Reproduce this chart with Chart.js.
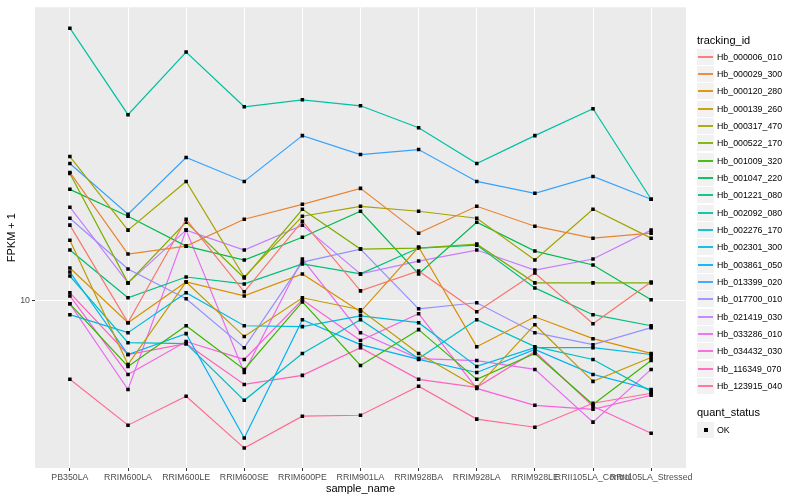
<!DOCTYPE html>
<html><head><meta charset="utf-8">
<script src="https://cdn.jsdelivr.net/npm/chart.js@4.4.1/dist/chart.umd.min.js"></script>
<style>
body{margin:0;background:#fff;font-family:"Liberation Sans",Arial,sans-serif;}
#wrap{position:relative;width:800px;height:500px;overflow:hidden;}
#c{position:absolute;left:0;top:0;}
.lt{position:absolute;font-size:11px;line-height:13px;color:#000;white-space:nowrap;}
.key{position:absolute;width:17px;height:16px;background:#F2F2F2;}
.key i{position:absolute;left:1px;width:15px;top:7px;height:2px;opacity:0.9;}
.key b{position:absolute;left:7px;top:6px;width:4px;height:4px;background:#000;}
.lab{position:absolute;font-size:8.8px;line-height:10px;color:#000;white-space:nowrap;}
</style></head><body>
<div id="wrap"><canvas id="c" width="800" height="500"></canvas><div id="legend"></div></div>
<script>
const categories = ["PB350LA","RRIM600LA","RRIM600LE","RRIM600SE","RRIM600PE","RRIM901LA","RRIM928BA","RRIM928LA","RRIM928LE","RRII105LA_Control","RRII105LA_Stressed"];
const trackingIds = ["Hb_000006_010","Hb_000029_300","Hb_000120_280","Hb_000139_260","Hb_000317_470","Hb_000522_170","Hb_001009_320","Hb_001047_220","Hb_001221_080","Hb_002092_080","Hb_002276_170","Hb_002301_300","Hb_003861_050","Hb_013399_020","Hb_017700_010","Hb_021419_030","Hb_033286_010","Hb_034432_030","Hb_116349_070","Hb_123915_040"];
const seriesColors = ["#F8766D","#EA8331","#D89000","#C09B00","#A3A500","#7CAE00","#39B600","#00BB4E","#00BF7D","#00C1A3","#00BFC4","#00BAE0","#00B0F6","#35A2FF","#9590FF","#C77CFF","#E76BF3","#FA62DB","#FF62BC","#FF6C91"];
const yTicks = [10];
const quantStatus = ["OK"];

const hb000006 = [16.74, 8.62, 17.42, 10.63, 17.19, 10.70, 12.25, 9.28, 12.09, 8.56, 11.37];
const hb000029 = [23.96, 13.75, 14.51, 17.42, 19.29, 21.50, 15.85, 19.03, 16.62, 15.32, 15.85];
const hb000120 = [12.50, 8.62, 11.37, 10.34, 12.01, 9.28, 14.42, 7.32, 8.97, 7.73, 6.99];
const hb000139 = [15.11, 6.48, 11.37, 7.84, 10.21, 9.41, 6.99, 5.55, 8.50, 5.78, 6.80];
const hb000317 = [26.70, 16.18, 22.54, 11.76, 17.78, 19.03, 18.40, 17.54, 13.20, 18.65, 15.32];
const hb000522 = [23.80, 11.30, 17.08, 11.68, 18.65, 14.22, 14.32, 14.71, 11.30, 11.30, 11.30];
const hb001009 = [9.80, 6.40, 8.44, 6.27, 9.93, 6.44, 8.22, 5.86, 6.99, 4.94, 6.66];
const hb001047 = [21.36, 17.78, 14.51, 13.20, 15.42, 18.40, 12.01, 17.08, 14.03, 12.76, 10.07];
const hb001221 = [14.13, 10.21, 11.76, 11.22, 12.85, 12.01, 14.32, 14.61, 10.92, 9.10, 8.44];
const hb002092 = [63.98, 35.50, 54.38, 37.47, 39.29, 37.72, 32.50, 25.46, 30.79, 36.96, 19.96];
const hb002276 = [11.84, 7.52, 7.47, 5.08, 6.99, 8.79, 6.75, 8.79, 7.32, 6.71, 5.40];
const hb002301 = [9.10, 8.05, 10.56, 8.44, 8.39, 9.03, 8.62, 6.40, 7.27, 7.27, 6.94];
const hb003861 = [12.17, 6.94, 8.00, 3.93, 8.79, 7.42, 6.71, 6.14, 7.18, 6.06, 5.47];
const hb013399 = [25.46, 18.03, 26.52, 22.54, 30.79, 27.06, 28.00, 22.54, 20.79, 23.32, 19.96];
const hb017700 = [17.54, 12.42, 10.14, 7.27, 13.02, 14.22, 9.47, 9.87, 8.05, 7.42, 8.33];
const hb021419 = [18.91, 11.30, 16.18, 14.13, 16.74, 12.01, 13.11, 14.13, 12.33, 13.29, 16.18];
const hb033286 = [9.80, 5.47, 16.18, 6.14, 13.29, 8.05, 6.75, 6.66, 6.27, 4.38, 6.27];
const hb034432 = [10.34, 6.06, 7.58, 6.71, 10.07, 7.63, 9.16, 5.51, 4.91, 4.78, 5.26];
const hb116349 = [10.56, 6.94, 7.47, 5.66, 6.02, 7.27, 5.86, 5.55, 7.08, 4.88, 4.06];
const hb123915 = [5.86, 4.29, 5.22, 3.67, 4.56, 4.59, 5.59, 4.47, 4.23, 4.98, 5.33];

const seriesValues = [hb000006,hb000029,hb000120,hb000139,hb000317,hb000522,hb001009,hb001047,hb001221,hb002092,hb002276,hb002301,hb003861,hb013399,hb017700,hb021419,hb033286,hb034432,hb116349,hb123915];

const FONT = '"Liberation Sans", Arial, sans-serif';

const datasets = trackingIds.map((id, k) => ({
  label: id,
  data: seriesValues[k].map((v, i) => ({x: i, y: v})),
  borderColor: seriesColors[k],
  backgroundColor: '#000',
  borderWidth: 1.2,
  pointStyle: 'rect',
  pointRadius: 2.5,
  pointBorderWidth: 0,
  pointBackgroundColor: '#000',
  tension: 0,
  fill: false
}));

const panelBg = {
  id: 'panelBg',
  beforeDraw(chart) {
    const {ctx, chartArea: a} = chart;
    ctx.save();
    ctx.fillStyle = '#EBEBEB';
    ctx.fillRect(a.left, a.top, a.right - a.left, a.bottom - a.top);
    ctx.restore();
  }
};

new Chart(document.getElementById('c'), {
  type: 'line',
  data: {datasets},
  plugins: [panelBg],
  options: {
    responsive: false,
    animation: false,
    devicePixelRatio: 1,
    layout: {padding: {top: 5, right: 114, left: 0, bottom: 0}},
    plugins: {legend: {display: false}, tooltip: {enabled: false}},
    elements: {line: {borderCapStyle: 'butt'}},
    scales: {
      x: {
        type: 'linear', min: -0.6, max: 10.6, bounds: 'data',
        afterBuildTicks: s => { s.ticks = categories.map((c, i) => ({value: i})); },
        afterFit: s => { s.height = 32; },
        ticks: {autoSkip: false, maxRotation: 0, minRotation: 0, color: '#4D4D4D',
                font: {family: FONT, size: 8.8}, padding: 1,
                callback: v => categories[v]},
        grid: {color: '#FFFFFF', lineWidth: 1, tickColor: '#333333', tickLength: 3},
        border: {display: false},
        title: {display: true, text: 'sample_name', color: '#000', font: {family: FONT, size: 11}, padding: {top: 0, bottom: 4}}
      },
      y: {
        type: 'logarithmic', min: 3.205, max: 73.75, bounds: 'data',
        afterBuildTicks: s => { s.ticks = yTicks.map(v => ({value: v})); },
        afterFit: s => { s.width = 35; },
        ticks: {color: '#4D4D4D', font: {family: FONT, size: 8.8}, padding: 2, callback: v => String(v)},
        grid: {color: '#FFFFFF', lineWidth: 1, tickColor: '#333333', tickLength: 3},
        border: {display: false},
        title: {display: true, text: 'FPKM + 1', color: '#000', font: {family: FONT, size: 11}, padding: {top: 5, bottom: 0}}
      }
    }
  }
});

// legend (ggplot style)
const lg = document.getElementById('legend');
function add(html){ lg.insertAdjacentHTML('beforeend', html); }
add('<div class="lt" style="left:697px;top:34px">tracking_id</div>');
trackingIds.forEach((id, k) => {
  const cy = Math.round(56.7 + 17.33 * k);
  add('<div class="key" style="left:697px;top:' + (cy - 8) + 'px"><i style="background:' + seriesColors[k] + '"></i></div>');
  add('<div class="lab" style="left:717px;top:' + (cy - 5) + 'px">' + id + '</div>');
});
add('<div class="lt" style="left:697px;top:406px">quant_status</div>');
quantStatus.forEach((q, k) => {
  const cy = Math.round(429.5 + 17.33 * k);
  add('<div class="key" style="left:697px;top:' + (cy - 8) + 'px"><b></b></div>');
  add('<div class="lab" style="left:717px;top:' + (cy - 5) + 'px">' + q + '</div>');
});
</script>
</body></html>
